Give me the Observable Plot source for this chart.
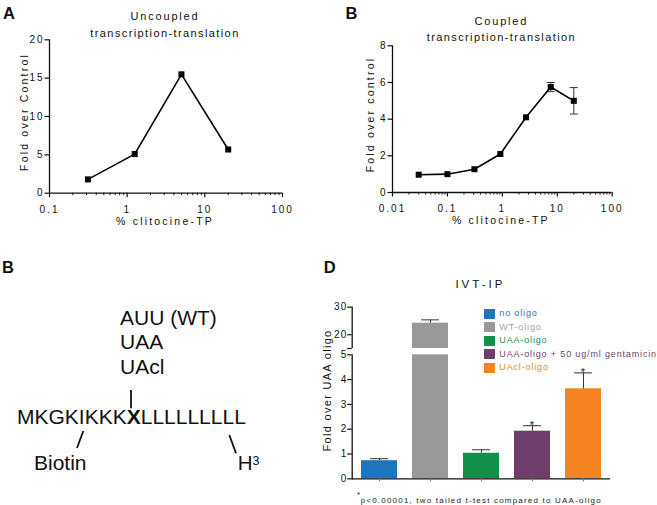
<!DOCTYPE html>
<html><head><meta charset="utf-8">
<script src="https://cdn.jsdelivr.net/npm/d3@7"></script>
<script src="https://cdn.jsdelivr.net/npm/@observablehq/plot@0.6"></script>
<style>
html,body{margin:0;padding:0;background:#fff;}
#root{position:relative;width:657px;height:505px;overflow:hidden;font-family:Arial,"Liberation Sans",sans-serif;color:#111;background:#fff;}
.abs{position:absolute;white-space:nowrap;line-height:1;}
</style></head><body><div id="root"></div>
<script>
const FONT = 'Arial, "Liberation Sans", sans-serif';

// ---------- Panel A : uncoupled ----------
const aDose = [0.3125, 1.25, 5, 20];
const aFold = [1.8, 5.1, 15.5, 5.7];
const aXTicks = [0.1, 1, 10, 100];
const aYTicks = [0, 5, 10, 15, 20];
const aTitle = ["Uncoupled", "transcription-translation"];
const aYLabel = "Fold over Control";
const xLabel = "% clitocine-TP";

// ---------- Panel B : coupled ----------
const bDose = [0.03, 0.1, 0.31, 0.92, 2.7, 7.6, 20];
const bFold = [0.97, 1.0, 1.27, 2.1, 4.1, 5.75, 5.0];
const bErr  = [0.04, 0.05, 0.06, 0.08, 0.1, 0.25, 0.72];
const bXTicks = [0.01, 0.1, 1, 10, 100];
const bYTicks = [0, 2, 4, 6, 8];
const bTitle = ["Coupled", "transcription-translation"];
const bYLabel = "Fold over control";

// ---------- Panel D : IVT-IP ----------
const dGroups = ["no oligo", "WT-oligo", "UAA-oligo", "UAA-oligo + 50 ug/ml gentamicin", "UAcl-oligo"];
const dMean = [0.73, 24.2, 1.03, 1.92, 3.63];
const dErr  = [0.08, 1.2, 0.14, 0.22, 0.64];
const dSig  = [false, false, false, true, true];
const dColors = ["#1f76bd", "#999999", "#12904a", "#6f3f69", "#f5831f"];
const dYTicks = [0, 1, 2, 3, 4, 5, 15, 20, 30];
const dTitle = "IVT-IP";
const dYLabel = "Fold over UAA oligo";
const dFootnote = "p<0.00001, two tailed t-test compared to UAA-oligo";

const root = document.getElementById("root");

function minorTicks(lo, hi) {
  const out = [];
  for (let p = lo; p < hi * 0.999; p *= 10) for (let k = 2; k <= 9; k++) out.push(+(p * k).toPrecision(3));
  return out;
}
const capSymbol = {draw(ctx, size) { const w = Math.sqrt(size / Math.PI); ctx.moveTo(-w, 0); ctx.lineTo(w, 0); }};

function place(svg, x, y) {
  svg.style.position = "absolute";
  svg.style.left = x + "px";
  svg.style.top = y + "px";
  root.appendChild(svg);
}
function spacing(svg, map) {
  svg.querySelectorAll("text").forEach(t => { if (map[t.textContent] != null) t.style.letterSpacing = map[t.textContent]; });
}
function put(html, x, base, size, extra = {}) {
  const el = document.createElement("div");
  el.className = "abs";
  el.innerHTML = html;
  el.style.left = x + "px";
  el.style.top = (base - 0.8465 * size) + "px";
  el.style.fontSize = size + "px";
  Object.assign(el.style, extra);
  root.appendChild(el);
  return el;
}
const svgStyle = {background: "transparent", fontFamily: FONT, fontSize: "10px", letterSpacing: "2px", color: "#111"};
const T = {textAnchor: "middle", lineAnchor: "middle"};

// ----- Plot A -----
const aData = aDose.map((d, i) => ({dose: d, fold: aFold[i]}));
const plotA = Plot.plot({
  width: 330, height: 230,
  marginLeft: 49, marginRight: 48, marginTop: 39.3, marginBottom: 37.3,
  style: svgStyle,
  x: {type: "log", domain: [0.1, 100]},
  y: {type: "linear", domain: [0, 20]},
  marks: [
    Plot.axisX({ticks: minorTicks(0.1, 100), tickSize: 2.5, tickFormat: () => "", label: null}),
    Plot.axisX({ticks: aXTicks, tickSize: 4.5, tickPadding: 8, tickFormat: d => String(d), label: null, strokeWidth: 1.2}),
    Plot.axisY({ticks: aYTicks, tickSize: 4.5, tickPadding: 0.5, label: null, strokeWidth: 1.2}),
    Plot.ruleY([0], {strokeWidth: 1.3}),
    Plot.ruleX([0.1], {strokeWidth: 1.3}),
    Plot.line(aData, {x: "dose", y: "fold", stroke: "#000", strokeWidth: 1.6}),
    Plot.dot(aData, {x: "dose", y: "fold", symbol: "square", r: 3.4, fill: "#000", stroke: null}),
    Plot.text([aTitle[0]], {...T, frameAnchor: "top", dy: -23.5, dx: -1, fontSize: 11}),
    Plot.text([aTitle[1]], {...T, frameAnchor: "top", dy: -6.8, dx: -1, fontSize: 11}),
    Plot.text([aYLabel], {...T, frameAnchor: "left", rotate: -90, dx: -25, dy: -4.5, fontSize: 10.5}),
    Plot.text([xLabel], {...T, frameAnchor: "bottom", dy: 28, dx: -1, fontSize: 10.5})
  ]
});
spacing(plotA, {"Uncoupled": "1.8px", "transcription-translation": "1.4px", [xLabel]: "2.2px", [aYLabel]: "2.2px"});
place(plotA, 0, 0);

// ----- Plot B -----
const bData = bDose.map((d, i) => ({dose: d, fold: bFold[i], err: bErr[i]}));
const bErrData = bData.filter(d => d.err > 0.15);
const plotB = Plot.plot({
  width: 327, height: 230,
  marginLeft: 62, marginRight: 45.3, marginTop: 45.3, marginBottom: 38,
  style: svgStyle,
  x: {type: "log", domain: [0.01, 100]},
  y: {type: "linear", domain: [0, 8]},
  marks: [
    Plot.axisX({ticks: minorTicks(0.01, 100), tickSize: 2.5, tickFormat: () => "", label: null}),
    Plot.axisX({ticks: bXTicks, tickSize: 4.5, tickPadding: 8, tickFormat: d => String(d), label: null, strokeWidth: 1.2}),
    Plot.axisY({ticks: bYTicks, tickSize: 4.5, tickPadding: 0.5, label: null, strokeWidth: 1.2}),
    Plot.ruleY([0], {strokeWidth: 1.3}),
    Plot.ruleX([0.01], {strokeWidth: 1.3}),
    Plot.ruleX(bErrData, {x: "dose", y1: d => d.fold - d.err, y2: d => d.fold + d.err, stroke: "#333", strokeWidth: 1}),
    Plot.dot(bErrData, {x: "dose", y: d => d.fold + d.err, symbol: capSymbol, r: 4, stroke: "#333", strokeWidth: 1, fill: "none"}),
    Plot.dot(bErrData, {x: "dose", y: d => d.fold - d.err, symbol: capSymbol, r: 4, stroke: "#333", strokeWidth: 1, fill: "none"}),
    Plot.line(bData, {x: "dose", y: "fold", stroke: "#000", strokeWidth: 1.6}),
    Plot.dot(bData, {x: "dose", y: "fold", symbol: "square", r: 3.4, fill: "#000", stroke: null}),
    Plot.text([bTitle[0]], {...T, frameAnchor: "top", dy: -24.6, dx: -1, fontSize: 11}),
    Plot.text([bTitle[1]], {...T, frameAnchor: "top", dy: -8.1, dx: -1, fontSize: 11}),
    Plot.text([bYLabel], {...T, frameAnchor: "left", rotate: -90, dx: -22, dy: -4.6, fontSize: 10.5}),
    Plot.text([xLabel], {...T, frameAnchor: "bottom", dy: 28, dx: -1.5, fontSize: 10.5})
  ]
});
spacing(plotB, {"Coupled": "1.8px", "transcription-translation": "1.4px", [xLabel]: "2.2px", [bYLabel]: "2.2px"});
place(plotB, 330, 0);

// ----- Plot D (broken y axis via piecewise scale) -----
const dData = dGroups.map((g, i) => ({group: g, mean: dMean[i], err: dErr[i], sig: dSig[i]}));
const plotD = Plot.plot({
  width: 357, height: 240,
  marginLeft: 51.7, marginRight: 47, marginTop: 51.7, marginBottom: 16.7,
  style: Object.assign({}, svgStyle, {letterSpacing: "1px"}),
  x: {type: "band", domain: dGroups, paddingInner: 0.3, paddingOuter: 0.15},
  y: {type: "linear", domain: [0, 5, 15, 30], range: [223.3, 99.3, 93, 51.7]},
  color: {domain: dGroups, range: dColors},
  marks: [
    Plot.barY(dData, {x: "group", y: "mean", fill: "group"}),
    Plot.ruleX(dData, {x: "group", y1: "mean", y2: d => d.mean + d.err, stroke: "#333", strokeWidth: 1}),
    Plot.tickY(dData, {x: "group", y: d => d.mean + d.err, insetLeft: 9, insetRight: 9, stroke: "#333", strokeWidth: 1}),
    Plot.ruleY([0], {strokeWidth: 1.3}),
    Plot.frame({anchor: "left", strokeWidth: 1.3}),
    Plot.rect([0], {y1: 5, y2: 15, fill: "white", insetLeft: -3}),
    Plot.axisY({ticks: dYTicks, tickSize: 4.5, tickPadding: 0.5, tickFormat: d => d === 15 ? "" : String(d), label: null, strokeWidth: 1.2}),
    Plot.axisX({tickSize: 3, tickFormat: () => "", label: null, stroke: "#777"}),
    Plot.text(dData.filter(d => d.sig), {x: "group", y: d => d.mean + d.err, text: () => "*", fontSize: 11}),
    Plot.text([dTitle], {...T, frameAnchor: "top", dy: -22.7, dx: -1, fontSize: 11.5}),
    Plot.text([dYLabel], {...T, frameAnchor: "left", rotate: -90, dx: -25.2, dy: -2.5, fontSize: 11})
  ]
});
spacing(plotD, {[dTitle]: "3px", [dYLabel]: "1.3px"});
place(plotD, 300, 255);

// ----- Legend for D -----
dGroups.forEach((g, i) => {
  const cy = 314 + i * 13.4;
  const sw = document.createElement("div");
  Object.assign(sw.style, {position: "absolute", left: "484px", top: (cy - 5) + "px", width: "11px", height: "10px", background: dColors[i]});
  root.appendChild(sw);
  put(g, 499.3, cy + 3, 9, {color: i === 1 ? "#a3a3a3" : dColors[i], letterSpacing: "0.85px"});
});
// footnote
put("*", 357, 497.5, 8);
put(dFootnote, 360.7, 503.5, 8, {letterSpacing: "1.2px", color: "#222"});

// ----- Panel letters -----
put("A", 3, 19.3, 16.5, {fontWeight: "bold"});
put("B", 345.5, 18.7, 16.5, {fontWeight: "bold"});
put("B", 2, 273.3, 16.5, {fontWeight: "bold"});
put("D", 323.8, 273.3, 16.5, {fontWeight: "bold"});

// ----- Panel C (peptide schematic) -----
put("AUU (WT)", 120, 324.3, 21);
put("UAA", 120, 348.3, 21);
put("UAcl", 120, 373.3, 21);
put("MKGKIKKK<b>X</b>LLLLLLLLL", 17, 424, 21);
put("Biotin", 34, 469.3, 21);
put("H", 237.8, 470.5, 20.5);
put("3", 252.5, 465.5, 12.5);
const deco = d3.create("svg").attr("width", 657).attr("height", 505)
  .style("position", "absolute").style("left", "0px").style("top", "0px");
[[131, 390, 131, 408.3], [77, 448, 83.3, 431], [229.3, 435, 236, 453.3]].forEach(([x1, y1, x2, y2]) =>
  deco.append("line").attr("x1", x1).attr("y1", y1).attr("x2", x2).attr("y2", y2)
    .attr("stroke", "#111").attr("stroke-width", 1.8));
root.appendChild(deco.node());
</script>
</body></html>
